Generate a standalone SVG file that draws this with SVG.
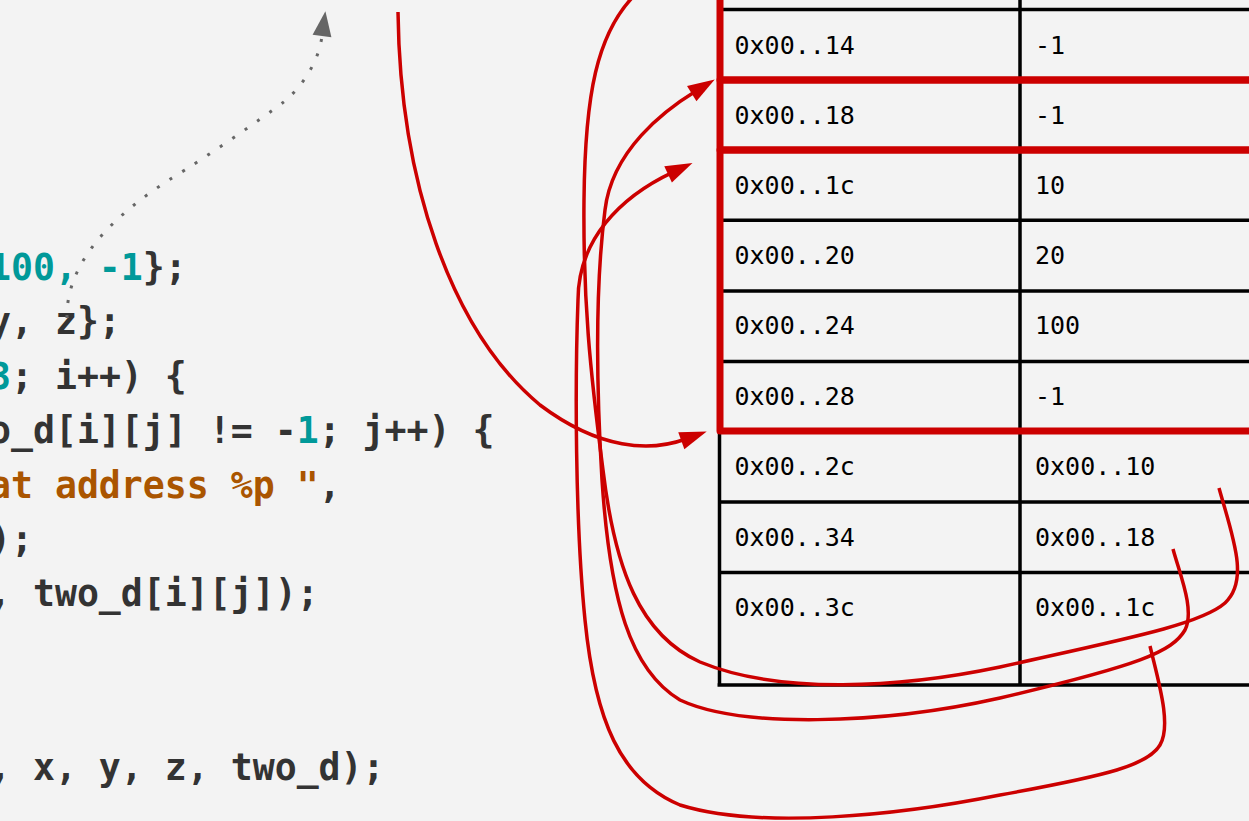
<svg xmlns="http://www.w3.org/2000/svg" width="1249" height="821" viewBox="0 0 1249 821">
<defs>
<style>
.code{font-family:"DejaVu Sans Mono",monospace;font-size:36.5px;font-weight:bold;fill:#333;white-space:pre}
.num{fill:#009999}
.str{fill:#aa5500}
.cell{font-family:"DejaVu Sans Mono",monospace;font-size:25px;fill:#000;white-space:pre}
.grid{stroke:#000;stroke-width:3.5;fill:none}
.hl{stroke:#cc0000;stroke-width:7;fill:none;stroke-linejoin:round}
.ptr{stroke:#cc0000;stroke-width:3.5;fill:none}
.dot{stroke:#666;stroke-width:3;fill:none;stroke-dasharray:3 12}
</style>
<marker id="redArrow" markerUnits="userSpaceOnUse" markerWidth="30" markerHeight="20" refX="5" refY="9" orient="auto" overflow="visible"><path d="M0,0 L27,9 L0,18 z" fill="#cc0000"/></marker>
<marker id="grayArrow" markerUnits="userSpaceOnUse" markerWidth="26" markerHeight="20" refX="0" refY="9.5" orient="auto" overflow="visible"><path d="M0,0 L25,9.5 L0,19 z" fill="#666"/></marker>
</defs>
<rect x="0" y="0" width="1249" height="821" fill="#f3f3f3"/>

<g id="code">
<text class="code" x="-11" y="280"><tspan class="num">100, -1</tspan>};</text>
<text class="code" x="-11" y="334.4">y, z};</text>
<text class="code" x="-11" y="388.8"><tspan class="num">3</tspan>; i++) {</text>
<text class="code" x="-11" y="443.2">o_d[i][j] != -<tspan class="num">1</tspan>; j++) {</text>
<text class="code" x="-11" y="497.6"><tspan class="str">at address %p "</tspan>,</text>
<text class="code" x="-11" y="552">);</text>
<text class="code" x="-11" y="606.4">, two_d[i][j]);</text>
<text class="code" x="-11" y="780">, x, y, z, two_d);</text>
</g>

<g id="memory-table">
<g id="grid">
<path class="grid" d="M719,9.5H1260 M719,220.3H1260 M719,291H1260 M719,361.5H1260 M719,502H1260 M719,572.5H1260 M717.5,685H1260 M1020,-10V686.5 M719.5,431V686.5"/>
</g>
<g id="row-14"><text class="cell" x="734.5" y="53.5">0x00..14</text><text class="cell" x="1035" y="53.5">-1</text></g>
<g id="row-18"><text class="cell" x="734.5" y="123.5">0x00..18</text><text class="cell" x="1035" y="123.5">-1</text></g>
<g id="row-1c"><text class="cell" x="734.5" y="193.5">0x00..1c</text><text class="cell" x="1035" y="193.5">10</text></g>
<g id="row-20"><text class="cell" x="734.5" y="263.5">0x00..20</text><text class="cell" x="1035" y="263.5">20</text></g>
<g id="row-24"><text class="cell" x="734.5" y="334">0x00..24</text><text class="cell" x="1035" y="334">100</text></g>
<g id="row-28"><text class="cell" x="734.5" y="404.5">0x00..28</text><text class="cell" x="1035" y="404.5">-1</text></g>
<g id="row-2c"><text class="cell" x="734.5" y="474.5">0x00..2c</text><text class="cell" x="1035" y="474.5">0x00..10</text></g>
<g id="row-34"><text class="cell" x="734.5" y="545.5">0x00..34</text><text class="cell" x="1035" y="545.5">0x00..18</text></g>
<g id="row-3c"><text class="cell" x="734.5" y="615.5">0x00..3c</text><text class="cell" x="1035" y="615.5">0x00..1c</text></g>
<g id="highlights">
<rect class="hl" x="720" y="-100" width="600" height="180"/>
<rect class="hl" x="720" y="80" width="600" height="70"/>
<rect class="hl" x="720" y="150" width="600" height="281"/>
</g>
</g>

<g id="connectors">
<path class="dot" d="M67,318 C66,270 100,222 180,173 C200,161 260,120 285,101 C300,88 318,65 322,36" marker-end="url(#grayArrow)"/>
<path class="ptr" d="M398,12 C400,180 450,330 540,405 C600,450 650,452 686,439" marker-end="url(#redArrow)"/>
<path class="ptr" d="M1219,488 C1232,535 1250,580 1225,603 C1200,625 1120,640 1000,667 C900,688 780,695 700,662 C640,635 615,570 603,470 C590,370 583,300 584,200 C585,100 595,30 640,-10"/>
<path class="ptr" d="M1173,549 C1180,575 1195,610 1185,630 C1172,652 1140,665 1000,698 C880,725 740,728 680,700 C630,670 610,600 602,480 C596,380 596,280 605,210 C612,150 665,110 696,91" marker-end="url(#redArrow)"/>
<path class="ptr" d="M1150,646 C1158,680 1172,725 1160,745 C1148,765 1110,775 1000,795 C900,815 760,830 680,805 C620,780 595,720 585,620 C575,520 575,380 578,300 C578,240 620,197 672.6,172.3" marker-end="url(#redArrow)"/>
</g>
</svg>
